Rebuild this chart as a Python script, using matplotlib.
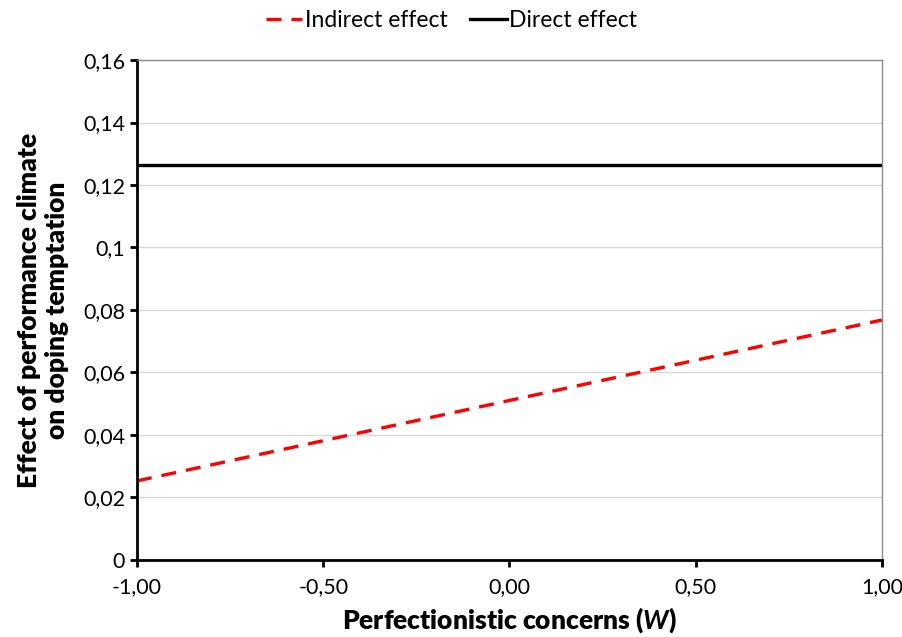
import numpy as np
import matplotlib
matplotlib.use("Agg")
import matplotlib.pyplot as plt
from matplotlib.ticker import FuncFormatter

# data
w = [-1.0, 1.0]
indirect = [0.0253, 0.0768]
direct = [0.1264, 0.1264]
xticks = [-1.0, -0.5, 0.0, 0.5, 1.0]
yticks = [0, 0.02, 0.04, 0.06, 0.08, 0.1, 0.12, 0.14, 0.16]

plt.rcParams['font.family'] = ['Lato', 'DejaVu Sans']
plt.rcParams['mathtext.fontset'] = 'custom'
plt.rcParams['mathtext.it'] = 'Lato:italic:bold'

fig = plt.figure(figsize=(9.03, 6.37), dpi=100)
ax = fig.add_axes([0.1517, 0.1209, 0.825, 0.7849])

ax.plot(w, indirect, color='red', lw=2.4, ls=(0, (4.5, 3.0)), label='Indirect effect')
ax.plot(w, direct, color='black', lw=2.4, label='Direct effect')

ax.set_xlim(-1, 1)
ax.set_ylim(0, 0.16)
ax.set_xticks(xticks)
ax.set_yticks(yticks)

#comma decimals like the original
def yfmt(v, pos):
    if abs(v) < 1e-12:
        return '0'
    s = ('%.2f' % v).rstrip('0')
    return s.replace('.', ',')
ax.yaxis.set_major_formatter(FuncFormatter(yfmt))
ax.xaxis.set_major_formatter(FuncFormatter(lambda v, p: ('%.2f' % v).replace('.', ',')))

ax.grid(axis='y', color='#d9d9d9', lw=1)
ax.set_axisbelow(True)

ax.spines['left'].set_linewidth(2)
ax.spines['bottom'].set_linewidth(2)
ax.spines['top'].set_color('#8c8c8c')
ax.spines['right'].set_color('#8c8c8c')
ax.spines['top'].set_linewidth(1)
ax.spines['right'].set_linewidth(1)

ax.tick_params(axis='both', labelsize=15.5, length=5, width=2, direction='out', colors='black')
ax.tick_params(axis='x', pad=7)

ax.set_xlabel('Perfectionistic concerns ($\\it{W}$)', fontsize=19, fontweight='heavy', labelpad=6)
ax.set_ylabel('Effect of performance climate\non doping temptation', fontsize=19, fontweight='heavy', labelpad=10)

fig.legend(loc='center', bbox_to_anchor=(0.5, 0.968), ncol=2, frameon=False,
           fontsize=16.5, handlelength=1.6, handletextpad=0.1, columnspacing=1.0)

fig.savefig('out.png', dpi=100)
